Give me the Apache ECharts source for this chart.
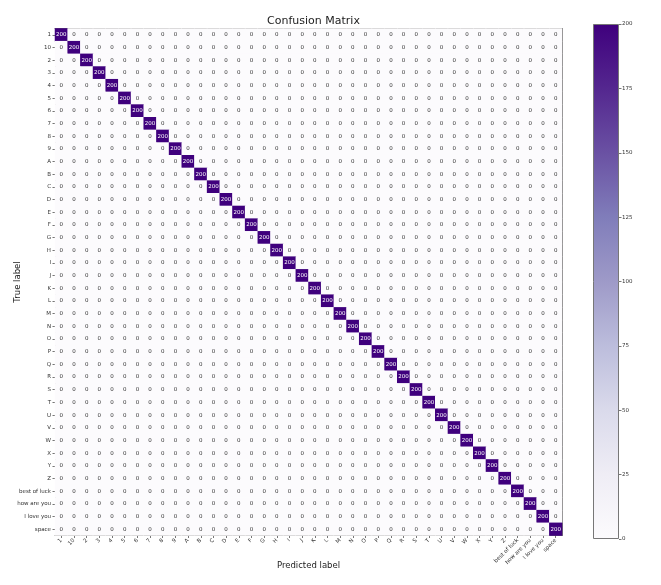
<!DOCTYPE html>
<html>
<head>
<meta charset="utf-8">
<script src="https://cdn.jsdelivr.net/npm/echarts@6/dist/echarts.min.js"></script>
<style>html,body{margin:0;padding:0;background:#fff;}#c{width:661px;height:585px;}</style>
</head>
<body>
<div id="c"></div>
<script>
const labels = ['1','10','2','3','4','5','6','7','8','9','A','B','C','D','E','F','G','H','I','J','K','L','M','N','O','P','Q','R','S','T','U','V','W','X','Y','Z','best of luck','how are you','I love you','space'];
// Counts: each true class (row) predicted correctly 200 times; all off-diagonal counts read as 0.
const diagonalCounts = [200,200,200,200,200,200,200,200,200,200,200,200,200,200,200,200,200,200,200,200,200,200,200,200,200,200,200,200,200,200,200,200,200,200,200,200,200,200,200,200];
const offDiagonalCount = 0;
const colorbarMax = 200;
const colorbarInterval = 25;
const purples = ['#fcfbfd','#efedf5','#dadaeb','#bcbddc','#9e9ac8','#807dba','#6a51a3','#54278f','#3f007d'];

const font = 'DejaVu Sans';
const data = [];
for (let r = 0; r < labels.length; r++) {
  for (let c = 0; c < labels.length; c++) {
    const v = r === c ? diagonalCounts[r] : offDiagonalCount;
    data.push({value: [c, r, v], label: {color: v > colorbarMax / 2 ? '#ffffff' : '#333333'}});
  }
}

const chart = echarts.init(document.getElementById('c'), null, {renderer: 'canvas'});
const axisCol = '#777';
chart.setOption({
  animation: false,
  backgroundColor: '#fff',
  title: {
    text: 'Confusion Matrix', left: 308.5, top: 11, textAlign: 'center',
    textStyle: {fontFamily: font, fontSize: 11, fontWeight: 'normal', color: '#222'}
  },
  grid: [
    {left: 55, top: 28.5, width: 507, height: 507},
    {left: 593, top: 24, width: 26, height: 515}
  ],
  xAxis: [
    {type: 'category', gridIndex: 0, data: labels, position: 'bottom',
     name: 'Predicted label', nameLocation: 'middle', nameGap: 26, nameMoveOverlap: false,
     nameTextStyle: {fontFamily: font, fontSize: 8.5, color: '#222'},
     axisLine: {show: true, lineStyle: {color: axisCol, width: 1}},
     axisTick: {show: true, alignWithLabel: true, length: 2.5, lineStyle: {color: axisCol}},
     axisLabel: {rotate: 45, fontFamily: font, fontSize: 5.5, color: '#333', margin: 4, interval: 0},
     splitLine: {show: false}},
    {type: 'category', gridIndex: 0, data: labels, position: 'top',
     axisLine: {show: true, lineStyle: {color: axisCol, width: 1}},
     axisTick: {show: false}, axisLabel: {show: false}, splitLine: {show: false}},
    {type: 'category', gridIndex: 1, data: [''], show: false}
  ],
  yAxis: [
    {type: 'category', gridIndex: 0, data: labels, inverse: true, position: 'left',
     name: 'True label', nameLocation: 'middle', nameGap: 33, nameRotate: 90, nameMoveOverlap: false,
     nameTextStyle: {fontFamily: font, fontSize: 8.5, color: '#222'},
     axisLine: {show: true, lineStyle: {color: axisCol, width: 1}},
     axisTick: {show: true, alignWithLabel: true, length: 2.5, lineStyle: {color: axisCol}},
     axisLabel: {fontFamily: font, fontSize: 5.5, color: '#333', margin: 4, interval: 0},
     splitLine: {show: false}},
    {type: 'category', gridIndex: 0, data: labels, inverse: true, position: 'right',
     axisLine: {show: true, lineStyle: {color: axisCol, width: 1}},
     axisTick: {show: false}, axisLabel: {show: false}, splitLine: {show: false}},
    {type: 'value', gridIndex: 1, min: 0, max: colorbarMax, interval: colorbarInterval, position: 'right',
     axisLine: {show: false},
     axisTick: {show: true, length: 2.5, lineStyle: {color: axisCol}},
     axisLabel: {fontFamily: font, fontSize: 5.5, color: '#333', margin: 3},
     splitLine: {show: false}}
  ],
  visualMap: {
    show: false, min: 0, max: colorbarMax, seriesIndex: 0, dimension: 2,
    inRange: {color: purples}
  },
  series: [
    {type: 'heatmap', xAxisIndex: 0, yAxisIndex: 0, data: data,
     label: {show: true, fontFamily: font, fontSize: 5.5, formatter: p => String(p.value[2])},
     itemStyle: {borderWidth: 0},
     emphasis: {disabled: true}},
    {type: 'bar', xAxisIndex: 2, yAxisIndex: 2, data: [colorbarMax], barWidth: '100%',
     itemStyle: {
       borderColor: axisCol, borderWidth: 1,
       color: new echarts.graphic.LinearGradient(0, 1, 0, 0,
         purples.map((c, i) => ({offset: i / (purples.length - 1), color: c})))
     },
     silent: true}
  ]
});
</script>
</body>
</html>
